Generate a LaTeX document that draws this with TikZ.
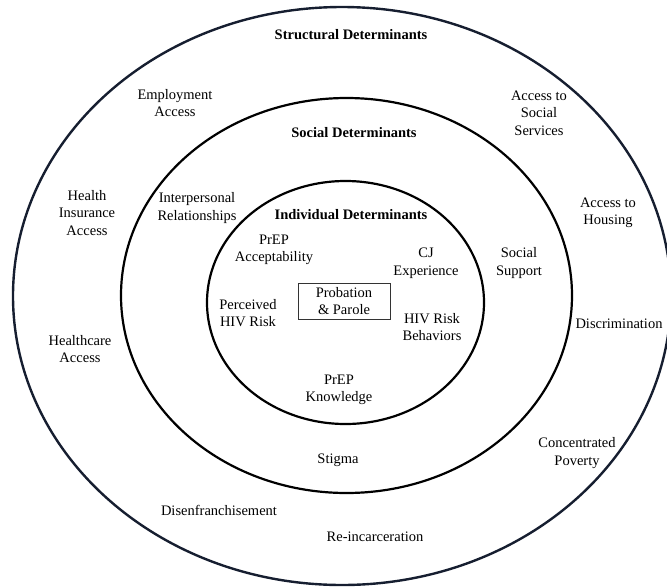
\documentclass[tikz,border=0pt]{standalone}
\usepackage{fontspec}
\setmainfont{Liberation Serif}
\begin{document}
\begin{tikzpicture}[x=1pt,y=-1pt,
  lbl/.style={align=center,font=\fontsize{14.5}{17.5}\selectfont,inner sep=0pt},
  head/.style={lbl,font=\fontsize{14.5}{17.5}\selectfont\bfseries},
  ring/.style={line width=2.2pt,draw=black},
  outerring/.style={line width=2.4pt,draw={rgb,255:red,22;green,30;blue,48}}]
\useasboundingbox (0,0) rectangle (667,587);
\clip (0,0) rectangle (667,587);
% rings
\draw[outerring] (342,296) ellipse [x radius=329, y radius=289];
\draw[ring] (346.5,295.5) ellipse [x radius=225.5, y radius=197.5];
\draw[ring] (345.5,302.5) ellipse [x radius=138.5, y radius=121.5];
% centre box
\node[lbl,draw=black!80,line width=1pt,minimum width=92pt,minimum height=36pt] (pp) at (344,301) {Probation\\\& Parole};
% headings
\node[head] (sd) at (351,35) {Structural Determinants};
\node[head] (so) at (354,133) {Social Determinants};
\node[head] (id) at (351,215) {Individual Determinants};
% structural
\node[lbl] (emp) at (175,103) {Employment\\Access};
\node[lbl] (ass) at (539,113) {Access to\\Social\\Services};
\node[lbl] (hia) at (87,213) {Health\\Insurance\\Access};
\node[lbl] (ah) at (608,213) {Access to\\Housing};
\node[lbl] (dis) at (619,324) {Discrimination};
\node[lbl] (hca) at (80,349) {Healthcare\\Access};
\node[lbl] (cp) at (577,453) {Concentrated\\Poverty};
\node[lbl] (dfr) at (219,510) {Disenfranchisement};
\node[lbl] (rei) at (375,537) {Re-incarceration};
% social
\node[lbl] (ir) at (197,208) {Interpersonal\\Relationships};
\node[lbl] (ss) at (519,263) {Social\\Support};
\node[lbl] (st) at (338,460) {Stigma};
% individual
\node[lbl] (pa) at (274,250) {PrEP\\Acceptability};
\node[lbl] (cj) at (426,263) {CJ\\Experience};
\node[lbl] (ph) at (248,313) {Perceived\\HIV Risk};
\node[lbl] (hr) at (432,327) {HIV Risk\\Behaviors};
\node[lbl] (pk) at (339,390) {PrEP\\Knowledge};
\end{tikzpicture}
\end{document}
